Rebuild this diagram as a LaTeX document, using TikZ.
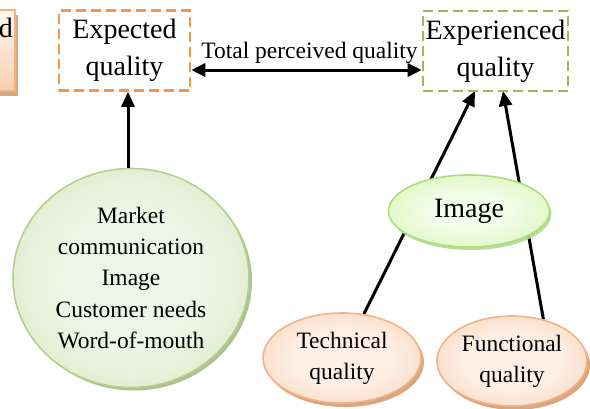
\documentclass[tikz,border=0pt]{standalone}
\usepackage{fontspec}
\setmainfont{Liberation Serif}
\usetikzlibrary{arrows.meta,shapes.geometric,shadows}
\definecolor{orng}{HTML}{F79646}
\definecolor{olive}{HTML}{9BBB59}
\definecolor{gin}{HTML}{EFF5E6}
\definecolor{gout}{HTML}{C9DCA4}
\definecolor{gbord}{HTML}{B7CF8C}
\definecolor{gshad}{HTML}{A7B888}
\definecolor{lin}{HTML}{F2FCE8}
\definecolor{lout}{HTML}{C8F296}
\definecolor{lbord}{HTML}{A8E275}
\definecolor{lshad}{HTML}{B5D49A}
\definecolor{oin}{HTML}{FDEFE5}
\definecolor{oout}{HTML}{F6BF97}
\definecolor{obord}{HTML}{F4B283}
\definecolor{oshad}{HTML}{D39C76}
\definecolor{ptop}{HTML}{FEF6F0}
\definecolor{pbot}{HTML}{F9CFAE}
\pgfdeclareradialshading{gsh}{\pgfpoint{0bp}{0bp}}{color(0bp)=(gin); color(15bp)=(gin); color(50bp)=(gout); color(100bp)=(gout)}
\pgfdeclareradialshading{lsh}{\pgfpoint{0bp}{0bp}}{color(0bp)=(lin); color(12bp)=(lin); color(50bp)=(lout); color(100bp)=(lout)}
\pgfdeclareradialshading{osh}{\pgfpoint{0bp}{0bp}}{color(0bp)=(oin); color(15bp)=(oin); color(50bp)=(oout); color(100bp)=(oout)}
\pgfdeclarelayer{bg}
\pgfsetlayers{bg,main}
\begin{document}
\begin{tikzpicture}[x=1pt,y=-1pt,
  dbox/.style={dash pattern=on 10pt off 5pt, line width=2.6pt, minimum width=#1, minimum height=80pt,
    inner sep=0pt, align=center, font=\fontsize{28}{37}\selectfont},
  arr/.style={line width=3pt, -{Triangle[length=15pt,width=13pt]}},
  dblarr/.style={line width=3pt, {Triangle[length=14pt,width=13pt]}-{Triangle[length=14pt,width=13pt]}},
  greenell/.style={ellipse, draw=gbord, line width=1.6pt, shading=gsh, inner sep=0pt, align=center,
    font=\fontsize{23.5}{31.3}\selectfont,
    drop shadow={shadow xshift=3pt, shadow yshift=-3pt, fill=gshad, opacity=0.9}},
  limeell/.style={ellipse, draw=lbord, line width=1.6pt, shading=lsh, inner sep=0pt, align=center,
    font=\fontsize{28}{34}\selectfont,
    drop shadow={shadow xshift=2pt, shadow yshift=-3pt, fill=lshad, opacity=0.9}},
  orell/.style={ellipse, draw=obord, line width=1.6pt, shading=osh, inner sep=0pt, align=center,
    font=\fontsize{23.5}{31}\selectfont,
    drop shadow={shadow xshift=3pt, shadow yshift=-4pt, fill=oshad, opacity=0.9}},
  smalltext/.style={font=\fontsize{23.5}{28}\selectfont, inner sep=0pt}
]
\useasboundingbox (0,0) rectangle (590,408);

% partially visible box at the left edge
\node[draw=obord, line width=1.6pt, top color=ptop, bottom color=pbot, minimum width=75pt, minimum height=81pt,
  drop shadow={shadow xshift=3pt, shadow yshift=-5pt, fill=oshad, opacity=0.9}] (lbox) at (-22.5,50.5) {};
\node[anchor=base east, inner sep=0pt, font=\fontsize{28}{37}\selectfont] (ltxt) at (13,37) {d};

% dashed boxes
\node[dbox=131pt, draw=orng] (expq) at (124.5,50.5) {Expected\\quality};
\node[dbox=145pt, draw=olive] (expd) at (495.5,51) {Experienced\\quality};

% double arrow with label
\coordinate (ay) at (0,70);
\draw[dblarr] (expq.east |- ay) -- (expd.west |- ay);
\node[smalltext, anchor=base] (tpq) at (309.5,58) {Total perceived quality};

% big circle
\node[greenell, minimum width=236pt, minimum height=219pt] (circ) at (131,278)
  {Market\\communication\\Image\\Customer needs\\Word-of-mouth};
\draw[arr] ([xshift=-3pt]circ.north) -- ([xshift=-3pt]circ.north |- expq.south);

% image and quality ellipses
\node[limeell, minimum width=161pt, minimum height=72pt] (img) at (469,211) {Image};
\node[orell, minimum width=158pt, minimum height=90pt] (tech) at (342,358) {Technical\\quality};
\node[orell, minimum width=150pt, minimum height=90pt] (func) at (512,361) {Functional\\quality};

\coordinate (e1) at (475,91);
\coordinate (e2) at (503,91);
\begin{pgfonlayer}{bg}
\draw[arr] (tech) -- (e1);
\draw[arr] (func.53) -- (e2);
\end{pgfonlayer}
\end{tikzpicture}
\end{document}
